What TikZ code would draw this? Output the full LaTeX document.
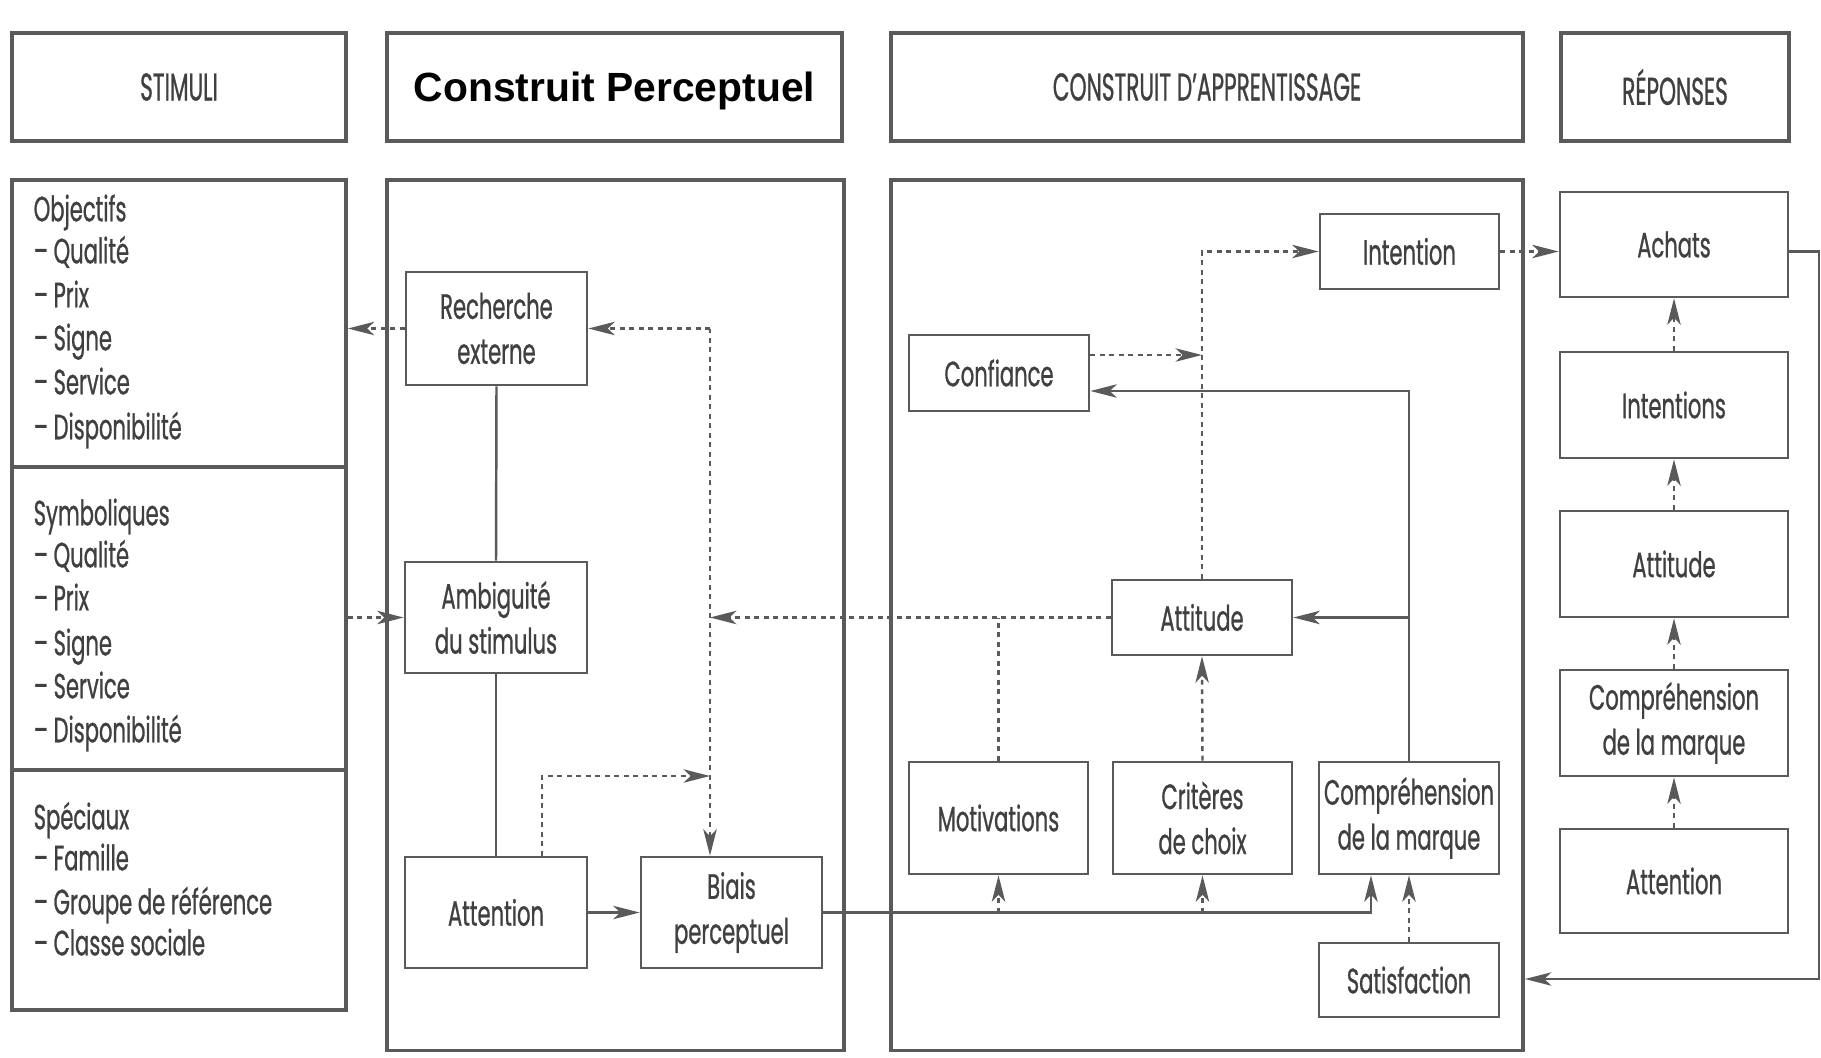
\documentclass[tikz,border=0pt]{standalone}
\usepackage{fontspec}
\setmainfont{Poppins}
\newfontfamily\bodyf[FakeStretch=0.6,FakeBold=0.7]{Poppins}
\newfontfamily\headf[FakeStretch=0.56,FakeBold=0.7]{Poppins}
\newfontfamily\boldf{Liberation Sans}
\usetikzlibrary{arrows.meta,calc}
\definecolor{txt}{HTML}{404040}
\definecolor{ln}{HTML}{5A5A5A}
\tikzset{
  hdr/.style={draw=ln, line width=1.1pt, minimum height=1.08cm, inner sep=0pt,
    font=\headf\fontsize{11}{13}\selectfont, text=txt},
  col/.style={draw=ln, line width=1pt},
  bx/.style={draw=ln, line width=0.75pt, inner sep=0pt, align=center,
    font=\bodyf\fontsize{10}{12.8}\selectfont, text=txt},
  item/.style={anchor=west, inner sep=0pt, text height=7pt, text depth=0pt,
    font=\bodyf\fontsize{10}{12.8}\selectfont, text=txt},
  arr/.style={-{Stealth[length=7.5pt,width=3.8pt,inset=2pt]}},
  dot/.style={draw=ln, line width=0.7pt, dash pattern=on 1.4pt off 1.3pt},
  sol/.style={draw=ln, line width=0.7pt}
}
\begin{document}
\begin{tikzpicture}[x=0.01cm,y=-0.01cm]
\fill[white] (0,0) rectangle (1821,1057);
\useasboundingbox (0,0) rectangle (1821,1057);

% headers
\node[hdr, minimum width=3.34cm] (hstim) at (179,87) {STIMULI};
\node[hdr, minimum width=4.55cm, text height=8.4pt, text depth=0pt, font=\boldf\bfseries\fontsize{11.6}{13}\selectfont, text=black] (hperc) at (614.5,87) {Construit Perceptuel};
\node[hdr, minimum width=6.32cm] (happ) at (1207,87) {CONSTRUIT D’APPRENTISSAGE};
\node[hdr, minimum width=2.28cm] (hrep) at (1675,87) {RÉPONSES};

% columns
\node[col, minimum width=3.34cm, minimum height=8.30cm, inner sep=0pt] (stim) at (179,595) {};
\node[col, minimum width=4.57cm, minimum height=8.70cm, inner sep=0pt] (perc) at (615.5,615) {};
\node[col, minimum width=6.32cm, minimum height=8.70cm, inner sep=0pt] (appr) at (1207,615) {};
\coordinate (d1) at (0,467);
\coordinate (d2) at (0,770);
\draw[col] (stim.west |- d1) -- (stim.east |- d1);
\draw[col] (stim.west |- d2) -- (stim.east |- d2);

% stimuli text
\node[item] (s1) at (33,209) {Objectifs};
\node[item] (s2) at (33,251) {– Qualité};
\node[item] (s3) at (33,295) {– Prix};
\node[item] (s4) at (33,338) {– Signe};
\node[item] (s5) at (33,382) {– Service};
\node[item] (s6) at (33,427) {– Disponibilité};
\node[item] (s7) at (33,513) {Symboliques};
\node[item] (s8) at (33,555) {– Qualité};
\node[item] (s9) at (33,598) {– Prix};
\node[item] (s10) at (33,643) {– Signe};
\node[item] (s11) at (33,686) {– Service};
\node[item] (s12) at (33,730) {– Disponibilité};
\node[item] (s13) at (33,817) {Spéciaux};
\node[item] (s14) at (33,858) {– Famille};
\node[item] (s15) at (33,902) {– Groupe de référence};
\node[item] (s16) at (33,943) {– Classe sociale};

% perceptual boxes
\node[bx, minimum width=1.81cm, minimum height=1.13cm] (rech) at (496.5,328.5) {Recherche\\externe};
\node[bx, minimum width=1.82cm, minimum height=1.11cm] (ambi) at (496,617.5) {Ambiguité\\du stimulus};
\node[bx, minimum width=1.82cm, minimum height=1.11cm] (att) at (496,912.5) {Attention};
\node[bx, minimum width=1.81cm, minimum height=1.11cm] (biais) at (731.5,912.5) {Biais\\perceptuel};

% learning boxes
\node[bx, minimum width=1.79cm, minimum height=0.75cm] (intention) at (1409.5,251.5) {Intention};
\node[bx, minimum width=1.80cm, minimum height=0.76cm] (conf) at (999,373) {Confiance};
\node[bx, minimum width=1.80cm, minimum height=0.75cm] (attit) at (1202,617.5) {Attitude};
\node[bx, minimum width=1.79cm, minimum height=1.12cm] (motiv) at (998.5,818) {Motivations};
\node[bx, minimum width=1.79cm, minimum height=1.12cm] (crit) at (1202.5,818) {Critères\\de choix};
\node[bx, minimum width=1.80cm, minimum height=1.12cm] (compr) at (1409,818) {Compréhension\\de la marque};
\node[bx, minimum width=1.80cm, minimum height=0.74cm] (satis) at (1409,980) {Satisfaction};

% responses
\node[bx, minimum width=2.28cm, minimum height=1.05cm] (achats) at (1674,244.5) {Achats};
\node[bx, minimum width=2.28cm, minimum height=1.06cm] (intents) at (1674,405) {Intentions};
\node[bx, minimum width=2.28cm, minimum height=1.06cm] (attit2) at (1674,564) {Attitude};
\node[bx, minimum width=2.28cm, minimum height=1.06cm] (compr2) at (1674,723) {Compréhension\\de la marque};
\node[bx, minimum width=2.28cm, minimum height=1.04cm] (att2) at (1674,881) {Attention};

% helper coordinates
\coordinate (vx) at (710,0);
\coordinate (v3) at (710,776);
\coordinate (cy) at (0,391);
\coordinate (cy2) at (0,355);
\coordinate (rt) at (1819,251.5);
\coordinate (rb) at (1819,979);

% perceptual connectors
\draw[dot,arr] (rech.west) -- (rech.west -| stim.east);
\draw[dot,arr] (ambi.west -| stim.east) -- (ambi.west);
\draw[sol] (rech.south) -- (ambi.north);
\draw[sol] (ambi.south) -- (att.north);
\draw[sol,arr] (att.east) -- (biais.west);
\draw[dot,arr] ([xshift=0.46cm]att.north) |- (v3);
\draw[dot,arr] (rech.east -| vx) -- (rech.east);
\draw[dot,arr] (rech.east -| vx) -- (biais.north -| vx);

% learning connectors
\draw[dot,arr] (attit.west) -- (attit.west -| vx);
\draw[dot] (motiv.north) -- (motiv.north |- attit.west);
\draw[sol,arr] (biais.east) -| ([xshift=-0.38cm]compr.south);
\draw[dot,arr] (motiv.south |- biais.east) -- (motiv.south);
\draw[dot,arr] (crit.south |- biais.east) -- (crit.south);
\draw[dot,arr] (satis.north) -- (compr.south);
\draw[dot,arr] (crit.north) -- (attit.south);
\draw[sol,arr] (compr.north) |- (conf.east |- cy);
\draw[sol,arr] (compr.north |- attit.east) -- (attit.east);
\draw[dot,arr] (attit.north) |- (intention.west);
\draw[dot,arr] (conf.east |- cy2) -- (attit.north |- cy2);
\draw[dot,arr] (intention.east) -- (intention.east -| achats.west);

% responses connectors
\draw[dot,arr] (intents.north) -- (achats.south);
\draw[dot,arr] (attit2.north) -- (intents.south);
\draw[dot,arr] (compr2.north) -- (attit2.south);
\draw[dot,arr] (att2.north) -- (compr2.south);
\draw[sol,arr] (achats.east |- rt) -- (rt) -- (rb) -- (rb -| appr.east);
\end{tikzpicture}
\end{document}
